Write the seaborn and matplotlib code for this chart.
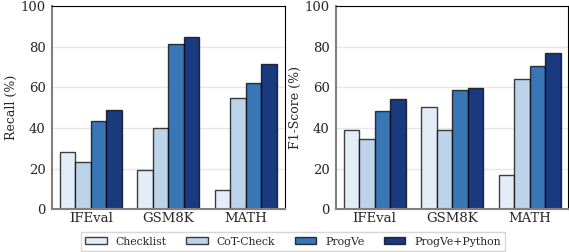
import pandas as pd
import matplotlib
import matplotlib.pyplot as plt
import seaborn as sns

matplotlib.use('Agg')

datasets = ["IFEval", "GSM8K", "MATH"]
methods = ["Checklist", "CoT-Check", "ProgVe", "ProgVe+Python"]

recall_checklist = [28.2, 19.5, 9.5]
recall_cot = [23.2, 39.9, 54.8]
recall_progve = [43.3, 81.1, 62.2]
recall_python = [48.9, 84.7, 71.6]

f1_checklist = [39.1, 50.4, 16.7]
f1_cot = [34.3, 38.9, 64.0]
f1_progve = [48.1, 58.9, 70.3]
f1_python = [54.0, 59.6, 76.8]

colors = ["#e3edf8", "#bdd3ea", "#3876b5", "#1a3a80"]


def to_frame(series):
    rows = []
    for method, values in zip(methods, series):
        for ds, v in zip(datasets, values):
            rows.append({"dataset": ds, "method": method, "value": v})
    return pd.DataFrame(rows)


recall_df = to_frame([recall_checklist, recall_cot, recall_progve, recall_python])
f1_df = to_frame([f1_checklist, f1_cot, f1_progve, f1_python])

sns.set_style("white")
plt.rcParams['font.family'] = ['DejaVu Serif']

fig, axes = plt.subplots(1, 2, figsize=(5.69, 2.52), dpi=100)
fig.subplots_adjust(left=0.0914, right=0.999, top=0.976, bottom=0.17, wspace=0.22)

for ax, df, ylabel in [(axes[0], recall_df, "Recall (%)"), (axes[1], f1_df, "F1-Score (%)")]:
    sns.barplot(data=df, x="dataset", y="value", hue="method", hue_order=methods,
                palette=colors, ax=ax, saturation=1, width=0.8,
                edgecolor=(0, 0, 0, 0.75), linewidth=1.0, legend=False)
    ax.set_ylim(0, 100)
    ax.set_yticks([0, 20, 40, 60, 80, 100])
    ax.set_ylabel(ylabel, fontsize=9)
    ax.yaxis.set_label_coords(-0.147, 0.5)
    ax.set_xlabel("")
    ax.yaxis.grid(True, color="#e6e6e6", linewidth=1.0)
    ax.set_axisbelow(True)
    ax.tick_params(axis="both", labelsize=9.5, length=2.5, color="#808080", width=1.2, pad=2)
    ax.tick_params(axis="x", length=0)
    for side in ["top", "right"]:
        ax.spines[side].set_color("black")
        ax.spines[side].set_linewidth(0.8)
    for side in ["left", "bottom"]:
        ax.spines[side].set_color("#808080")
        ax.spines[side].set_linewidth(1.5)

handles = [plt.Rectangle((0, 0), 1, 1, facecolor=c, edgecolor=(0, 0, 0, 0.75), linewidth=1.0)
           for c in colors]
fig.legend(handles, methods, loc="lower center", ncol=4, fontsize=7.8,
           bbox_to_anchor=(0.515, 0.004), borderaxespad=0, frameon=True,
           handlelength=2.0, handleheight=0.6, handletextpad=0.8, columnspacing=1.8,
           borderpad=0.4, fancybox=False, edgecolor="#cccccc")

plt.savefig("out.png", dpi=100)
plt.close()
